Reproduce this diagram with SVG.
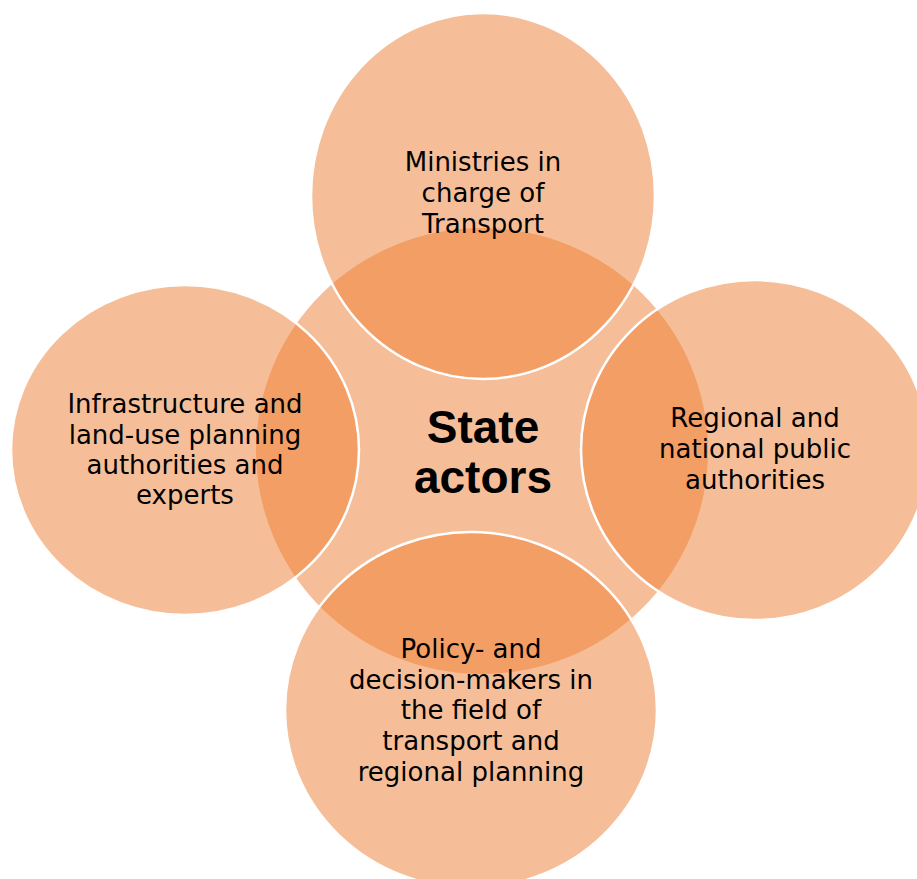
<svg xmlns="http://www.w3.org/2000/svg" width="917" height="879" viewBox="0 0 917 879">
<style>
.c{fill:#ED7D31;fill-opacity:0.5}
.o{stroke:#FFFFFF;stroke-width:2.5}
.t{font-family:"DejaVu Sans","Noto Sans",sans-serif;font-size:26px;fill:#000;text-anchor:middle}
.b{font-family:"Liberation Sans","Open Sans",sans-serif;font-size:46px;font-weight:bold;fill:#000;text-anchor:middle}
</style>
<rect width="917" height="879" fill="#FFFFFF"/>
<g id="center">
<ellipse class="c" cx="482" cy="451" rx="226" ry="223"/>
</g>
<g id="top">
<ellipse class="c o" cx="483" cy="196" rx="172" ry="183"/>
<text class="t" x="483" y="171">Ministries in</text>
<text class="t" x="483" y="202">charge of</text>
<text class="t" x="483" y="233">Transport</text>
</g>
<g id="left">
<ellipse class="c o" cx="185" cy="450" rx="174" ry="165"/>
<text class="t" x="185" y="413">Infrastructure and</text>
<text class="t" x="185" y="444">land-use planning</text>
<text class="t" x="185" y="474">authorities and</text>
<text class="t" x="185" y="504">experts</text>
</g>
<g id="right">
<ellipse class="c o" cx="755" cy="450" rx="174" ry="170"/>
<text class="t" x="755" y="427">Regional and</text>
<text class="t" x="755" y="458">national public</text>
<text class="t" x="755" y="489">authorities</text>
</g>
<g id="bottom">
<ellipse class="c o" cx="471" cy="710" rx="186" ry="178"/>
<text class="t" x="471" y="658">Policy- and</text>
<text class="t" x="471" y="689">decision-makers in</text>
<text class="t" x="471" y="719">the field of</text>
<text class="t" x="471" y="750">transport and</text>
<text class="t" x="471" y="781">regional planning</text>
</g>
<g id="title">
<text class="b" x="483" y="443">State</text>
<text class="b" x="483" y="493">actors</text>
</g>
<g id="connectors"></g>
</svg>
